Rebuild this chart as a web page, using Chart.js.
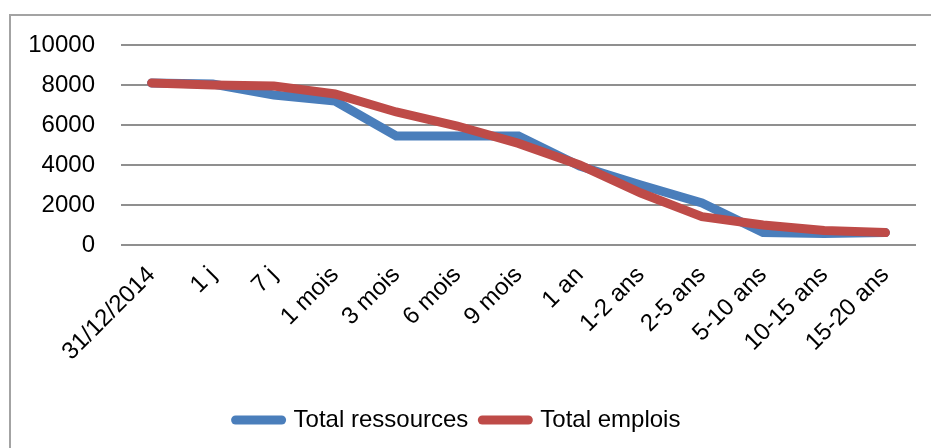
<!DOCTYPE html>
<html>
<head>
<meta charset="utf-8">
<script src="https://cdn.jsdelivr.net/npm/chart.js@4"></script>
<style>
  html, body { margin: 0; padding: 0; background: #fff; overflow: hidden; }
  #wrap { position: relative; width: 931px; height: 448px; }
  #frame { position: absolute; left: 9px; top: 14px; width: 1000px; height: 1000px; border: 2px solid #a3a3a3; box-sizing: border-box; }
  #chart_box { position: absolute; left: 0; top: 0; width: 931px; height: 448px; }
</style>
</head>
<body>
<div id="wrap">
  <div id="frame"></div>
  <div id="chart_box"><canvas id="chart_1"></canvas></div>
</div>
<script>
//Categories (maturity buckets)
let categories = ['31/12/2014', '1 j', '7 j', '1 mois', '3 mois', '6 mois', '9 mois', '1 an', '1-2 ans', '2-5 ans', '5-10 ans', '10-15 ans', '15-20 ans'];

//Series values
let total_ressources = [8100, 8050, 7500, 7200, 5450, 5450, 5450, 3950, 3000, 2100, 620, 580, 620];
let total_emplois = [8100, 8000, 7950, 7550, 6650, 5950, 5080, 4000, 2600, 1420, 1000, 720, 620];

//Y axis ticks
let y_ticks = [0, 2000, 4000, 6000, 8000, 10000];

const chart_font = { family: "'Liberation Sans', Arial, sans-serif", size: 24 };

let chart_canvas = document.getElementById('chart_1');

let chart = new Chart(chart_canvas, {
    type: 'line',
    data: {
        labels: categories,
        datasets: [{
            label: 'Total ressources',
            data: total_ressources,
            borderColor: '#4a7ebb',
            backgroundColor: '#4a7ebb',
            borderWidth: 9,
            borderCapStyle: 'round',
            pointRadius: 0,
            tension: 0,
            order: 1
        }, {
            label: 'Total emplois',
            data: total_emplois,
            borderColor: '#be4b48',
            backgroundColor: '#be4b48',
            borderWidth: 9,
            borderCapStyle: 'round',
            pointRadius: 0,
            tension: 0,
            order: 0
        }]
    },
    options: {
        responsive: true,
        maintainAspectRatio: false,
        animation: false,
        layout: { padding: { left: 0, right: 15, top: 45, bottom: 6 } },
        plugins: {
            tooltip: { enabled: false },
            legend: {
                position: 'bottom',
                labels: {
                    color: '#000',
                    font: chart_font,
                    usePointStyle: true,
                    pointStyle: 'line',
                    pointStyleWidth: 46,
                    padding: 14,
                    sort: (a, b) => a.datasetIndex - b.datasetIndex,
                    generateLabels: (c) => {
                        let items = Chart.defaults.plugins.legend.labels.generateLabels(c);
                        items.forEach(it => { it.lineCap = 'round'; });
                        return items;
                    }
                }
            }
        },
        scales: {
            x: {
                offset: true,
                grid: { display: false, drawTicks: false },
                border: { display: false },
                ticks: {
                    color: '#000',
                    font: chart_font,
                    autoSkip: false,
                    minRotation: 45,
                    maxRotation: 45,
                    padding: 16
                },
                afterFit: (scale) => { scale.height = 149; }
            },
            y: {
                min: 0,
                max: 10000,
                afterBuildTicks: (scale) => { scale.ticks = y_ticks.map(v => ({ value: v })); },
                grid: { color: '#8f8f8f', lineWidth: 2, drawTicks: false },
                border: { display: false },
                ticks: {
                    color: '#000',
                    font: chart_font,
                    padding: 26,
                    callback: (v) => String(v)
                },
                afterFit: (scale) => { scale.width = 121; }
            }
        }
    }
});
</script>
</body>
</html>
